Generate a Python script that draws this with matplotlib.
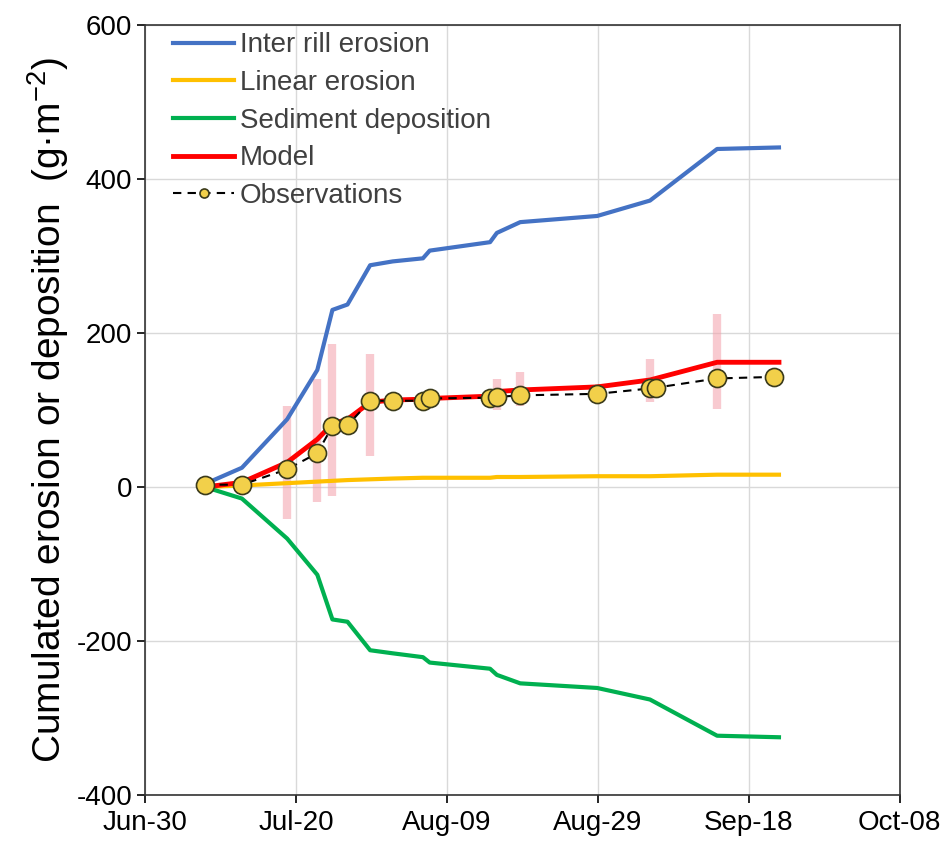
import matplotlib
matplotlib.use("Agg")
import matplotlib.pyplot as plt
import matplotlib.dates as mdates
import numpy as np
import pandas as pd

plt.rcParams['font.family'] = ['Liberation Sans', 'DejaVu Sans']
plt.rcParams['mathtext.fontset'] = 'custom'
plt.rcParams['mathtext.rm'] = 'Liberation Sans'
plt.rcParams['axes.unicode_minus'] = False

# ===== Data =====
start = pd.Timestamp("2015-06-30")
model_days = [7.9, 12.8, 18.8, 22.8, 24.8, 26.8, 29.8, 32.8, 36.8, 37.7,
              45.7, 46.6, 49.7, 59.9, 66.9, 75.8, 84.0]
inter_rill = [4, 25, 88, 152, 230, 237, 288, 293, 297, 307,
              318, 330, 344, 352, 372, 439, 441]
linear = [0, 2, 5, 7, 8, 9, 10, 11, 12, 12,
          12, 13, 13, 14, 14, 16, 16]
deposition = [0, -15, -67, -114, -172, -175, -212, -216, -221, -228,
              -236, -244, -255, -261, -276, -323, -325]
model = [0, 6, 32, 62, 82, 88, 110, 113, 114, 115,
         118, 124, 126, 130, 139, 162, 162]

obs_days = [7.9, 12.8, 18.8, 22.8, 24.8, 26.8, 29.8, 32.8, 36.8, 37.7,
            45.7, 46.6, 49.7, 59.9, 66.9, 67.7, 75.8, 83.4]
obs_vals = [3, 3, 23, 44, 79, 80, 112, 112, 112, 115,
            116, 117, 119, 121, 128, 129, 141, 143]

# error bars on a few observation dates (low, high)
err_days = [18.8, 22.8, 24.8, 29.8, 46.6, 49.7, 66.9, 75.8]
err_low = [-42, -20, -12, 40, 100, 105, 110, 101]
err_high = [105, 140, 186, 173, 140, 149, 166, 225]

to_dates = lambda d: [start + pd.Timedelta(days=x) for x in d]

# ===== Plot =====
fig = plt.figure(figsize=(9.5, 8.48), dpi=100)
ax = fig.add_axes([0.153, 0.0625, 0.794, 0.908])

ax.vlines(to_dates(err_days), err_low, err_high, color='#F4A0AA', lw=6, alpha=0.55, zorder=1)

ax.plot(to_dates(model_days), inter_rill, color='#4472C4', lw=3, label='Inter rill erosion', zorder=3)
ax.plot(to_dates(model_days), linear, color='#FFC000', lw=3, label='Linear erosion', zorder=3)
ax.plot(to_dates(model_days), deposition, color='#00B050', lw=3, label='Sediment deposition', zorder=3)
ax.plot(to_dates(model_days), model, color='#FF0000', lw=3.5, label='Model', zorder=4)
ax.plot(to_dates(obs_days), obs_vals, color='black', ls=(0, (4, 3)), lw=1.5,
        marker='o', ms=13, mfc='#F2D04A', mec='#3a3a1a', mew=1.2,
        label='Observations', zorder=5)

ax.set_xlim(start, start + pd.Timedelta(days=100))
ax.set_ylim(-400, 600)
ax.set_yticks(np.arange(-400, 601, 200))
ax.set_xticks(to_dates(range(0, 101, 20)))
ax.xaxis.set_major_formatter(mdates.DateFormatter('%b-%d'))

ax.tick_params(axis='both', labelsize=20, direction='out', length=6, width=1.2)
ax.tick_params(axis='x', pad=5)
ax.grid(True, color='#D9D9D9', lw=1)
ax.set_axisbelow(True)
for s in ax.spines.values():
    s.set_color('#333333')
    s.set_linewidth(1.2)

ax.set_ylabel('Cumulated erosion or deposition  (g·m$^{-2}$)', fontsize=28, labelpad=4)

leg = ax.legend(loc='upper left', frameon=False, fontsize=20, handlelength=2.2,
                handletextpad=0.2, labelspacing=0.42, borderaxespad=0.2,
                bbox_to_anchor=(0.015, 1.012), markerscale=0.5)
for t in leg.get_texts():
    t.set_color('#404040')

plt.savefig('out.png', dpi=100)
